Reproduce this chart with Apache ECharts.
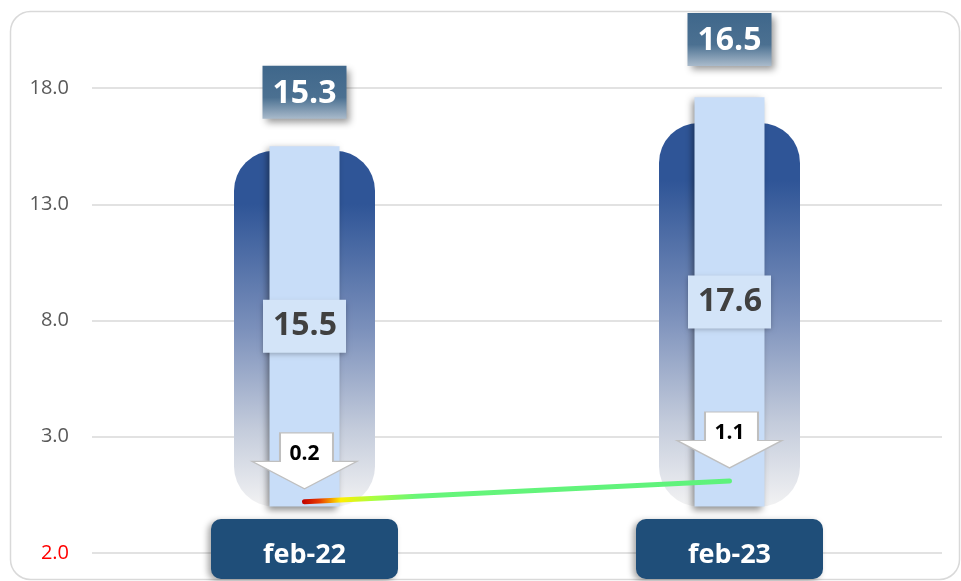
<!DOCTYPE html>
<html>
<head>
<meta charset="utf-8">
<script src="https://cdn.jsdelivr.net/npm/echarts@6/dist/echarts.min.js"></script>
<style>
  html, body { margin: 0; padding: 0; background: #fff; }
  #chart { width: 961px; height: 581px; }
</style>
</head>
<body>
<div id="chart"></div>
<script>
const categories = ["feb-22", "feb-23"];
const wideValues = [15.3, 16.5];
const narrowValues = [15.5, 17.6];
const lineValues = [0.2, 1.1];
const yTicks = { min: -2, max: 18, interval: 5 };

const FONT = "Open Sans";

// arrow callout pointing down, drawn as the line's symbol
const arrowPath = "path://M28,0L81,0L81,28L105,28L52.5,55L0,28L28,28Z";

function buildOptions() {
  return {
    animation: false,
    backgroundColor: "#fff",
    graphic: [
      {
        type: "rect",
        z: -10,
        shape: { x: 10.5, y: 11.5, width: 949, height: 568, r: 20 },
        style: { fill: "none", stroke: "#d9d9d9", lineWidth: 1.5 },
      },
    ],
    grid: { left: 92, right: 19, top: 88, bottom: 28 },
    xAxis: [
      {
        type: "category",
        data: categories,
        axisLine: { show: false },
        axisTick: { show: false },
        axisLabel: {
          margin: -34,
          color: "#fff",
          fontFamily: FONT,
          fontWeight: "bold",
          fontSize: 27,
          lineHeight: 32,
          width: 87,
          align: "center",
          backgroundColor: "#1f4e79",
          borderRadius: 10,
          padding: [20, 50, 8, 50],
          shadowColor: "rgba(0,0,0,0.35)",
          shadowBlur: 6,
          shadowOffsetX: -3,
          shadowOffsetY: 2,
        },
      },
      {
        type: "category",
        data: categories,
        show: false,
      },
    ],
    yAxis: {
      type: "value",
      min: yTicks.min,
      max: yTicks.max,
      interval: yTicks.interval,
      axisLine: { show: false },
      axisTick: { show: false },
      splitLine: { lineStyle: { color: "#d9d9d9", width: 1.5 } },
      axisLabel: {
        margin: 23,
        fontFamily: FONT,
        fontSize: 20,
        formatter: (v) => Math.abs(v).toFixed(1),
        color: (v) => (parseFloat(v) < 0 ? "#ff0000" : "#595959"),
      },
    },
    series: [
      {
        name: "wide",
        type: "bar",
        xAxisIndex: 0,
        barWidth: 141,
        data: wideValues.map((v, i) => ({
          value: v,
          label: { distance: i === 0 ? 32 : 57 },
        })),
        itemStyle: {
          borderRadius: 40,
          color: new echarts.graphic.LinearGradient(0, 0, 0, 1, [
            { offset: 0, color: "#2f5597" },
            { offset: 0.15, color: "#2f5597" },
            { offset: 0.5, color: "#7b90bb" },
            { offset: 0.78, color: "#c3cbdb" },
            { offset: 1, color: "#f2f2f3" },
          ]),
        },
        label: {
          show: true,
          position: "top",
          formatter: (p) => p.value.toFixed(1),
          color: "#fff",
          fontFamily: FONT,
          fontWeight: "bold",
          fontSize: 32,
          lineHeight: 36,
          width: 60,
          align: "center",
          padding: [10, 12, 7, 12],
          backgroundColor: new echarts.graphic.LinearGradient(0, 0, 0, 1, [
            { offset: 0, color: "#3f678b" },
            { offset: 0.6, color: "#4b7091" },
            { offset: 1, color: "#a9bacb" },
          ]),
          shadowColor: "rgba(0,0,0,0.4)",
          shadowBlur: 7,
          shadowOffsetX: 3,
          shadowOffsetY: 4,
        },
      },
      {
        name: "narrow",
        type: "bar",
        xAxisIndex: 1,
        barWidth: 70,
        data: narrowValues,
        itemStyle: {
          color: "#c8ddf8",
          shadowColor: "rgba(0,0,0,0.45)",
          shadowBlur: 7,
          shadowOffsetX: -3,
          shadowOffsetY: 3,
        },
        label: {
          show: true,
          position: "inside",
          formatter: (p) => p.value.toFixed(1),
          color: "#404040",
          fontFamily: FONT,
          fontWeight: "bold",
          fontSize: 32,
          lineHeight: 36,
          width: 60,
          align: "center",
          padding: [10, 11, 7, 12],
          backgroundColor: "#d3e4f8",
          shadowColor: "rgba(0,0,0,0.25)",
          shadowBlur: 5,
          shadowOffsetY: 2,
        },
      },
      {
        name: "line",
        type: "line",
        xAxisIndex: 0,
        data: lineValues,
        symbol: arrowPath,
        symbolSize: [105, 56],
        symbolOffset: [0, -41],
        itemStyle: { color: "#fff", borderColor: "#bfbfbf", borderWidth: 1.5 },
        lineStyle: {
          width: 5,
          cap: "round",
          color: new echarts.graphic.LinearGradient(0, 0, 1, 0, [
            { offset: 0, color: "#c00000" },
            { offset: 0.04, color: "#e83a00" },
            { offset: 0.09, color: "#ffee00" },
            { offset: 0.17, color: "#a6ff44" },
            { offset: 0.27, color: "#66f57a" },
            { offset: 1, color: "#5ef27c" },
          ]),
        },
        label: {
          show: true,
          position: "inside",
          offset: [0, -7],
          formatter: (p) => p.value.toFixed(1),
          color: "#000",
          fontFamily: FONT,
          fontWeight: "bold",
          fontSize: 21,
        },
        z: 5,
      },
    ],
  };
}

const chart = echarts.init(document.getElementById("chart"));
chart.setOption(buildOptions());
</script>
</body>
</html>
